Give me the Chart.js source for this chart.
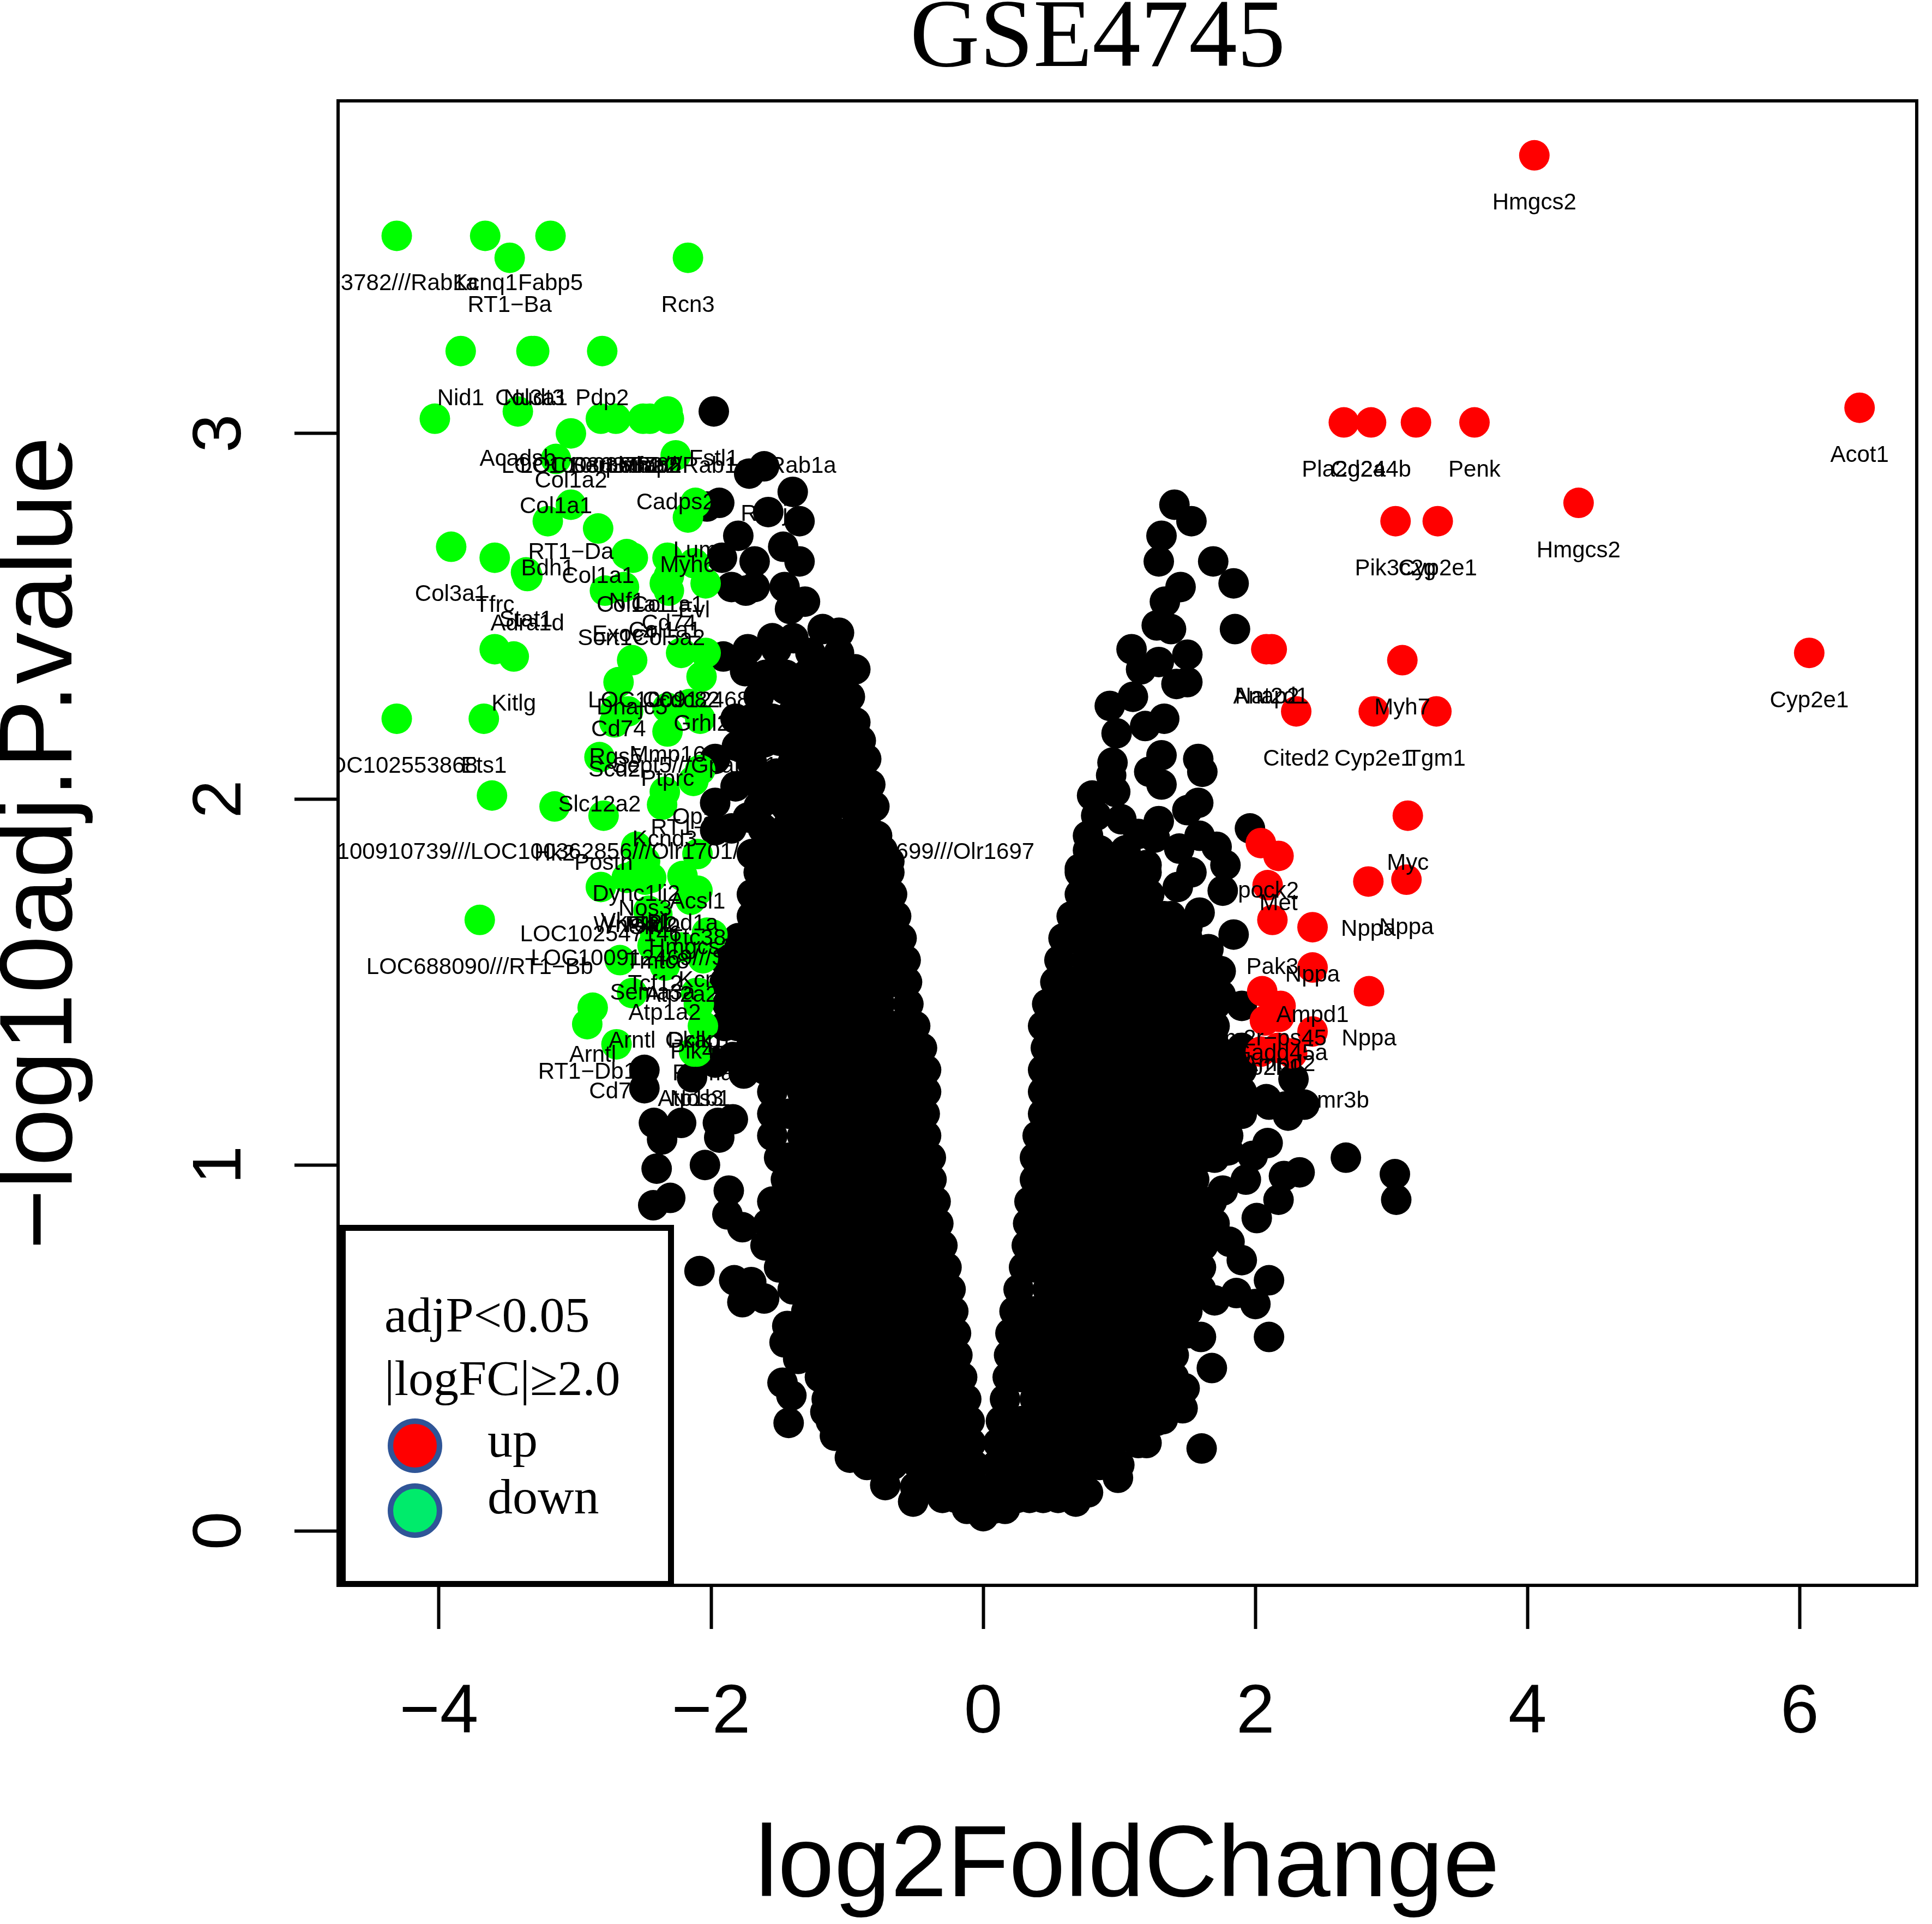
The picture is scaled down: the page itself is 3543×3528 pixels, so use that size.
<!DOCTYPE html>
<html>
<head>
<meta charset="utf-8">
<title>GSE4745</title>
<style>
  html, body { margin: 0; padding: 0; background: #fff; }
  canvas { display: block; }
</style>
<script src="https://cdn.jsdelivr.net/npm/chart.js@4/dist/chart.umd.min.js"></script>
</head>
<body>
<canvas id="volcano" width="3543" height="3528"></canvas>
<script>
const xTickValues = [-4, -2, 0, 2, 4, 6];
const yTickValues = [0, 1, 2, 3];

// up regulated genes
const upX = [4.05, 6.44, 2.65, 2.85, 3.18, 3.61, 4.375, 3.03, 3.34, 6.07, 2.08, 2.12, 3.08, 2.30, 2.87, 3.33, 3.12, 2.04, 2.17, 2.83, 3.11, 2.09, 2.125, 2.42, 2.42, 2.835, 2.05, 2.185, 2.07, 2.175, 2.42, 2.04, 2.27, 2.165];
const upY = [3.76, 3.07, 3.03, 3.03, 3.03, 3.03, 2.81, 2.76, 2.76, 2.40, 2.41, 2.41, 2.38, 2.24, 2.24, 2.24, 1.955, 1.88, 1.845, 1.775, 1.78, 1.765, 1.67, 1.65, 1.54, 1.475, 1.475, 1.435, 1.395, 1.405, 1.365, 1.31, 1.305, 1.32];
const upLabels = ['Hmgcs2', 'Acot1', 'Pla2g2a', 'Cd244b', '', 'Penk', 'Hmgcs2', 'Pik3c2g', 'Cyp2e1', 'Cyp2e1', 'Anap2', 'Nat2d1', 'Myh7', 'Cited2', 'Cyp2e1', 'Tgm1', 'Myc', 'Spock2', 'Met', 'Nppa', 'Nppa', '', 'Pak3', 'Nppa', 'Ampd1', 'Nppa', 'Vom2r−ps45', 'Gadd45a', 'Atp2b1', 'Ampd2', '', '', 'Smr3a///Smr3b', ''];

// down regulated genes
const downX = [-4.31, -3.66, -3.18, -3.48, -2.17, -3.84, -3.32, -3.30, -2.80, -4.03, -3.42, -3.03, -3.14, -2.81, -2.70, -2.50, -2.45, -2.31, -2.32, -2.26, -3.20, -3.03, -2.83, -3.91, -3.59, -3.36, -3.35, -2.575, -2.62, -2.32, -2.115, -2.17, -2.125, -2.78, -2.64, -2.31, -2.34, -2.31, -2.04, -2.58, -2.22, -2.04, -2.07, -2.68, -3.59, -3.45, -4.31, -3.67, -2.71, -2.61, -2.70, -2.32, -2.16, -2.08, -2.32, -2.82, -3.61, -3.15, -2.79, -2.36, -2.34, -2.08, -2.13, -2.55, -2.485, -2.55, -2.21, -2.10, -2.10, -2.81, -2.46, -2.62, -2.485, -2.44, -2.15, -2.395, -3.70, -2.41, -2.03, -2.43, -2.215, -1.99, -2.06, -2.67, -2.34, -2.58, -2.11, -2.09, -2.09, -2.87, -2.91, -2.695, -2.06, -2.105, -2.125];
const downY = [3.54, 3.54, 3.54, 3.48, 3.48, 3.225, 3.225, 3.225, 3.225, 3.04, 3.06, 3.00, 2.93, 3.04, 3.04, 3.04, 3.04, 3.04, 3.06, 2.94, 2.76, 2.805, 2.74, 2.69, 2.66, 2.62, 2.61, 2.66, 2.67, 2.66, 2.81, 2.77, 2.645, 2.57, 2.58, 2.61, 2.59, 2.57, 2.59, 2.38, 2.40, 2.40, 2.335, 2.32, 2.41, 2.39, 2.22, 2.22, 2.21, 2.24, 2.245, 2.25, 2.26, 2.22, 2.185, 2.115, 2.01, 1.98, 1.955, 1.985, 2.02, 2.08, 2.05, 1.87, 1.83, 1.795, 1.79, 1.85, 1.75, 1.76, 1.695, 1.785, 1.78, 1.785, 1.725, 1.685, 1.67, 1.625, 1.635, 1.60, 1.595, 1.63, 1.565, 1.56, 1.545, 1.47, 1.47, 1.47, 1.44, 1.43, 1.385, 1.33, 1.38, 1.31, 1.31];
const downLabels = ['103782///Rab1a', 'Kcnq1', 'Fabp5', 'RT1−Ba', 'Rcn3', 'Nid1', 'Col3a1', 'Nudt3', 'Pdp2', '', 'Acadsb', 'Col1a2', 'Col1a1', 'LOC100363782', 'Serpinh1', 'Lama2', 'Mfap5', 'LOC100363782///Rab1a///Rab1a', '', 'Cadps2', 'Bdh1', 'RT1−Da', 'Col1a1', 'Col3a1', 'Tfrc', 'Stat1', 'Adra1d', 'Col1a1', 'Nf1', 'Col1a1', 'Lum', 'Myh6', 'Evl', 'Sort1', 'Exoc4', 'Cd74', 'Col1a1', 'Col5a2', '', 'Dnajc5', 'Ccdc82', 'LOC100912468///Sfrp2', 'Grhl2', 'Cd74', '', 'Kitlg', 'LOC102553868', 'Ets1', 'Scd2', '', 'Rgs5', 'Mmp16', '', 'Sept5///Gpatch11', 'Ptprc', 'Slc12a2', '', 'Hk2', 'Postn', 'LOC100910739///LOC100362856///Olr1701///Olr1700///Olr1699///Olr1697', 'Kcnd3', 'Opa1', 'RT1−Ha', 'Dync1li2', 'Nos3', 'Vkorc1', 'Plod1a', 'Acsl1', 'Ttc38', 'LOC102547146', 'LOC100912469///Sfrp2', 'Wnt5a', 'Slk', 'Pkd2', 'Hmgcs1', 'Tmtc8', 'LOC688090///RT1−Bb', 'Tcf12', 'Kcnj8', 'Sema3a', 'Atp2a2', '', '', '', 'Atp1a2', 'Arntl', 'Dclk1', 'Gkap1', 'Pik4a', 'Arntl', 'RT1−Db1', 'Cd74', 'Rgma', 'Nos3', 'Atp1b1'];

// not significant, but labelled
const otherLabelX = [-1.98, -1.61];
const otherLabelY = [3.06, 2.91];
const otherLabels = ['Fstl1', 'Rhoj'];

// not significant, the scattered points round the edge of the cloud
const otherPoints = [
  [-1.72, 2.89], [-1.40, 2.84], [-1.94, 2.81], [-2.03, 2.80], [-1.58, 2.785], [-1.35, 2.76], [-1.80, 2.72], [-1.47, 2.69],
  [-1.35, 2.65], [-1.92, 2.66], [-1.68, 2.65], [-1.85, 2.58], [-1.745, 2.57], [-1.68, 2.58], [-1.46, 2.58], [-1.31, 2.54],
  [-1.42, 2.52], [-1.73, 2.41], [-1.55, 2.44], [-1.395, 2.44], [-1.18, 2.465], [-1.06, 2.455], [-1.91, 2.39], [-1.75, 2.35],
  [-1.52, 2.41], [-1.27, 2.40], [-1.06, 2.40], [-.94, 2.355], [-1.30, 2.34], [-1.03, 2.31], [-1.12, 2.365], [-1.455, 2.30],
  [-1.82, 2.22], [-1.55, 2.22], [-1.395, 2.23], [-.94, 2.21], [-1.06, 2.23], [-1.21, 2.26], [-1.81, 2.145], [-1.97, 2.11],
  [-1.61, 2.155], [-1.36, 2.165], [-1.12, 2.15], [-.86, 2.11], [-1.03, 2.08], [-.83, 2.04], [-1.52, 2.07], [-1.27, 2.09],
  [-.89, 1.99], [-1.21, 2.01], [-1.97, 1.99], [-1.73, 1.95], [-1.36, 1.98], [-1.03, 1.99], [-1.56, 2.00], [-1.82, 2.035],
  [-1.97, 1.915], [-1.36, 1.90], [-.78, 1.90], [-.69, 1.83], [-1.70, 1.85], [-1.52, 1.86], [-1.21, 1.895], [-1.06, 1.885], [-.91, 1.86],
  [1.405, 2.805], [1.53, 2.76], [1.31, 2.72], [1.29, 2.65], [1.69, 2.65], [1.84, 2.59], [1.45, 2.58], [1.335, 2.54],
  [1.275, 2.475], [1.38, 2.465], [1.85, 2.465], [1.50, 2.395], [1.09, 2.41], [1.29, 2.375], [1.16, 2.355], [1.42, 2.315],
  [1.50, 2.32], [1.10, 2.28], [.93, 2.255], [1.33, 2.22], [1.19, 2.20], [.98, 2.18], [1.31, 2.12], [.95, 2.10],
  [1.58, 2.11], [1.61, 2.075], [1.22, 2.075], [1.31, 2.04], [.94, 2.065], [.80, 2.01], [.97, 2.02], [.83, 1.955],
  [1.58, 1.99], [1.50, 1.97], [1.29, 1.94], [1.96, 1.92], [.77, 1.90], [1.015, 1.945], [1.14, 1.905], [1.26, 1.895],
  [1.59, 1.90], [1.715, 1.87], [1.44, 1.865], [.71, 1.81], [1.78, 1.82], [.92, 1.84], [1.20, 1.82], [1.53, 1.80],
  [1.76, 1.75], [1.43, 1.76], [1.59, 1.69], [1.84, 1.63], [1.50, 1.65], [1.655, 1.59], [1.745, 1.53], [1.745, 1.465],
  [1.90, 1.435], [1.53, 1.39], [1.685, 1.37],
  [-2.49, 1.26], [-2.49, 1.21], [-2.14, 1.24], [-2.42, 1.115], [-2.22, 1.115], [-2.36, 1.07], [-2.40, .99], [-1.95, 1.115],
  [-1.84, 1.125], [-1.94, 1.075], [-2.045, 1.00], [-2.30, .91], [-2.425, .89], [-1.87, .93], [-1.88, .865], [-1.77, .83],
  [-2.085, .71], [-1.83, .685], [-1.705, .68], [-1.77, .625], [-1.61, .635], [-1.44, .56], [-1.46, .515], [-1.36, .47],
  [-1.475, .405], [-1.41, .37], [-1.43, .295], [-1.16, .325], [-1.09, .26], [-.98, .20], [-.72, .125], [-.515, .08],
  [-1.51, 1.23], [-1.76, 1.25], [-1.97, 1.28], [-1.84, 1.295], [-1.54, 1.28],
  [1.605, .225], [.99, .145], [.68, .08], [.77, .105], [2.10, .53], [2.00, .62], [2.10, .685], [1.90, .74],
  [1.81, .79], [2.01, .855], [2.17, .905], [2.21, .97], [2.325, .98], [1.93, .96], [1.76, .93], [2.09, 1.06],
  [1.80, 1.04], [1.98, 1.025], [2.24, 1.135], [2.08, 1.18], [1.86, .65], [1.70, .63], [2.665, 1.02], [3.025, .975],
  [3.035, .905], [1.68, .445], [1.60, .53], [1.48, .39], [1.465, .335], [1.32, .305], [1.17, .245],
  [2.28, 1.235], [2.22, 1.16], [2.36, 1.165], [2.10, 1.165]
];

// the solid part of the cloud, row by row
const cloudRowY = [2.34, 2.28, 2.22, 2.16, 2.1, 2.04, 1.98, 1.92, 1.86, 1.8, 1.74, 1.68, 1.62, 1.56, 1.5, 1.44, 1.38, 1.32, 1.26, 1.2, 1.14, 1.08, 1.02, .96, .9, .84, .78, .72, .66, .6, .54, .48, .42, .36, .3, .24, .18, .12, .09, .06, .04];
const cloudRowLeftX = [
  [-1.6, -1.45, -1.15],
  [-1.65, -1.3, -1.15, -.98],
  [-1.7, -1.25, -1.15],
  [-1.7, -1.5, -1.25, -1, -.9],
  [-1.7, -1.4, -1.15, -.95],
  [-1.65, -1.4, -1.3, -1.1, -1, -.9],
  [-1.65, -1.45, -1.25, -1.12, -.95, -.8],
  [-1.85, -1.62, -1.45, -1.28, -1.12, -.95, -.85],
  [-1.615, -1.425, -1.235, -1.045, -.855, -.74],
  [-1.65, -1.52, -1.33, -1.14, -.95, -.76, -.69],
  [-1.7, -1.615, -1.425, -1.235, -1.045, -.855, -.67],
  [-1.7, -1.52, -1.33, -1.14, -.95, -.76, -.64],
  [-1.8, -1.615, -1.425, -1.235, -1.045, -.855, -.665, -.6],
  [-1.9, -1.71, -1.52, -1.33, -1.14, -.95, -.76, -.57],
  [-1.9, -1.805, -1.615, -1.425, -1.235, -1.045, -.855, -.665, -.56],
  [-1.88, -1.71, -1.52, -1.33, -1.14, -.95, -.76, -.55],
  [-1.9, -1.805, -1.615, -1.425, -1.235, -1.045, -.855, -.665, -.5],
  [-1.71, -1.52, -1.33, -1.14, -.95, -.76, -.57, -.45],
  [-1.6, -1.425, -1.235, -1.045, -.855, -.665, -.475, -.42],
  [-1.55, -1.33, -1.14, -.95, -.76, -.57, -.42],
  [-1.55, -1.425, -1.235, -1.045, -.855, -.665, -.475, -.43],
  [-1.55, -1.33, -1.14, -.95, -.76, -.57, -.42],
  [-1.5, -1.425, -1.235, -1.045, -.855, -.665, -.475, -.385],
  [-1.45, -1.33, -1.14, -.95, -.76, -.57, -.38],
  [-1.55, -1.425, -1.235, -1.045, -.855, -.665, -.475, -.35],
  [-1.58, -1.52, -1.33, -1.14, -.95, -.76, -.57, -.38, -.33],
  [-1.6, -1.425, -1.235, -1.045, -.855, -.665, -.475, -.3],
  [-1.5, -1.33, -1.14, -.95, -.76, -.57, -.38, -.27],
  [-1.4, -1.235, -1.045, -.855, -.665, -.475, -.285, -.24],
  [-1.3, -1.14, -.95, -.76, -.57, -.38, -.22],
  [-1.3, -1.235, -1.045, -.855, -.665, -.475, -.285, -.2],
  [-1.3, -1.14, -.95, -.76, -.57, -.38, -.19],
  [-1.2, -1.045, -.855, -.665, -.475, -.285, -.155],
  [-1.15, -.95, -.76, -.57, -.38, -.19, -.125],
  [-1.12, -1.045, -.855, -.665, -.475, -.285, -.1],
  [-.95, -.76, -.57, -.38, -.19, -.09],
  [-.855, -.72, -.665, -.475, -.285, -.095, -.07],
  [-.5, -.38, -.19, -.05],
  [-.3, -.2],
  [-.12, -.03],
  [0]
];
const cloudRowRightX = [
  [], [], [], [], [], [], [], [],
  [.77, .855, 1.045],
  [.71, .76, .95, 1.14, 1.2],
  [.71, .855, 1.045, 1.22],
  [.65, .76, .95, 1.14, 1.33, 1.38],
  [.59, .665, .855, 1.045, 1.235, 1.425, 1.5],
  [.56, .76, .95, 1.14, 1.33, 1.52, 1.65],
  [.53, .665, .855, 1.045, 1.235, 1.425, 1.615],
  [.47, .57, .76, .95, 1.14, 1.33, 1.52, 1.71],
  [.44, .475, .665, .855, 1.045, 1.235, 1.425, 1.615, 1.7],
  [.46, .57, .76, .95, 1.14, 1.33, 1.52, 1.71, 1.9],
  [.44, .55, .665, .855, 1.045, 1.235, 1.425, 1.615, 1.805, 1.9],
  [.44, .57, .76, .95, 1.14, 1.33, 1.52, 1.71, 1.9],
  [.44, .55, .665, .855, 1.045, 1.235, 1.425, 1.615, 1.805, 1.9],
  [.4, .57, .76, .95, 1.14, 1.33, 1.52, 1.71, 1.8],
  [.38, .475, .665, .855, 1.045, 1.235, 1.425, 1.615, 1.7],
  [.38, .57, .76, .95, 1.14, 1.33, 1.52, 1.55],
  [.34, .475, .665, .855, 1.045, 1.235, 1.425, 1.615, 1.68],
  [.33, .38, .57, .76, .95, 1.14, 1.33, 1.52, 1.7],
  [.32, .475, .665, .855, 1.045, 1.235, 1.425, 1.615],
  [.3, .38, .57, .76, .95, 1.14, 1.33, 1.52, 1.6],
  [.26, .475, .665, .855, 1.045, 1.235, 1.425, 1.6],
  [.23, .38, .57, .76, .95, 1.14, 1.33, 1.5],
  [.2, .285, .475, .665, .855, 1.045, 1.235, 1.425, 1.5],
  [.19, .38, .57, .76, .95, 1.14, 1.33, 1.4],
  [.18, .285, .475, .665, .855, 1.045, 1.235, 1.4],
  [.16, .38, .57, .76, .95, 1.14, 1.33, 1.4],
  [.13, .285, .475, .665, .855, 1.045, 1.235, 1.27],
  [.11, .19, .38, .57, .76, .95, 1.14, 1.2],
  [.1, .285, .475, .665, .855, 1],
  [.09, .19, .38, .57, .72],
  [.25, .34, .44, .55],
  [.07, .16],
  []
];

function toPoints(xs, ys, labels) {
  return xs.map(function (x, i) {
    return { x: x, y: ys[i], gene: labels ? labels[i] : '' };
  });
}

const cloudPoints = [];
cloudRowY.forEach(function (y, i) {
  cloudRowLeftX[i].concat(cloudRowRightX[i]).forEach(function (x) {
    cloudPoints.push({ x: x, y: y, gene: '' });
  });
});
const blackPoints = toPoints(otherLabelX, otherLabelY, otherLabels)
  .concat(otherPoints.map(function (p) { return { x: p[0], y: p[1], gene: '' }; }))
  .concat(cloudPoints);

const sansFont = '"Liberation Sans", Arial, sans-serif';
const serifFont = '"Liberation Serif", "Times New Roman", serif';

// gene names go under their point, cut off at the plot edge like in R
const geneLabels = {
  id: 'geneLabels',
  afterDatasetsDraw(chart) {
    const { ctx, chartArea, scales } = chart;
    ctx.save();
    ctx.lineWidth = 6;
    ctx.strokeStyle = '#000';
    ctx.strokeRect(chartArea.left, chartArea.top, chartArea.right - chartArea.left, chartArea.bottom - chartArea.top);
    ctx.beginPath();
    ctx.rect(chartArea.left, chartArea.top, chartArea.right - chartArea.left, chartArea.bottom - chartArea.top);
    ctx.clip();
    ctx.font = '42px ' + sansFont;
    ctx.fillStyle = '#000';
    ctx.textAlign = 'center';
    ctx.textBaseline = 'middle';
    chart.data.datasets.forEach(function (ds) {
      ds.data.forEach(function (p) {
        if (p.gene) ctx.fillText(p.gene, scales.x.getPixelForValue(p.x), scales.y.getPixelForValue(p.y) + 88);
      });
    });
    ctx.restore();
  }
};

// the pasted legend box in the lower left corner
const legendBox = {
  id: 'legendBox',
  afterLayout(chart) {
    // the title sits left of the plot centre
    chart.titleBlock.right = 4026;
  },
  afterDraw(chart) {
    const ctx = chart.ctx;
    ctx.save();
    ctx.fillStyle = '#000';
    ctx.fillRect(619, 2246, 617, 664);
    ctx.fillStyle = '#fff';
    ctx.fillRect(634, 2257, 591, 642);

    ctx.fillStyle = '#000';
    ctx.font = '92px ' + serifFont;
    ctx.textAlign = 'left';
    ctx.textBaseline = 'alphabetic';
    ctx.fillText('adjP<0.05', 705, 2442);
    ctx.fillText('|logFC|≥2.0', 705, 2558);
    ctx.fillText('up', 894, 2671);
    ctx.fillText('down', 894, 2775);

    [[2651, '#ff0000'], [2770, '#00eb6b']].forEach(function (item) {
      ctx.beginPath();
      ctx.arc(761, item[0], 45, 0, Math.PI * 2);
      ctx.fillStyle = item[1];
      ctx.fill();
      ctx.lineWidth = 10;
      ctx.strokeStyle = '#2f5597';
      ctx.stroke();
    });
    ctx.restore();
  }
};

new Chart(document.getElementById('volcano'), {
  type: 'scatter',
  data: {
    datasets: [
      { label: 'up', data: toPoints(upX, upY, upLabels), backgroundColor: '#ff0000', order: 1 },
      { label: 'down', data: toPoints(downX, downY, downLabels), backgroundColor: '#00ff00', order: 2 },
      { label: 'other', data: blackPoints, backgroundColor: '#000000', order: 3 }
    ]
  },
  options: {
    responsive: false,
    devicePixelRatio: 1,
    animation: false,
    events: [],
    elements: { point: { radius: 28, borderWidth: 0 } },
    layout: { padding: { left: 0, right: 11, top: 0, bottom: 0 } },
    plugins: {
      legend: { display: false },
      tooltip: { enabled: false },
      title: {
        display: true,
        text: 'GSE4745',
        color: '#000',
        font: { family: serifFont, size: 177, weight: 'normal', lineHeight: 0.7 },
        padding: { top: 13, bottom: 48 }
      }
    },
    scales: {
      x: {
        type: 'linear',
        min: -4.741,
        max: 6.86,
        afterFit(scale) {
          scale.height = 621;
          scale.paddingLeft = 0;
          scale.paddingRight = 0;
        },
        afterBuildTicks(scale) { scale.ticks = xTickValues.map(function (v) { return { value: v }; }); },
        border: { display: true, width: 6, color: '#000' },
        grid: { drawOnChartArea: false, drawTicks: true, tickLength: 80, tickWidth: 6, tickColor: '#000' },
        ticks: {
          autoSkip: false,
          maxRotation: 0,
          padding: 79,
          color: '#000',
          font: { family: sansFont, size: 127 },
          callback(v) { return String(v).replace('-', '−'); }
        },
        title: {
          display: true,
          text: 'log2FoldChange',
          color: '#000',
          font: { family: sansFont, size: 186, lineHeight: 1 },
          padding: { top: 0, bottom: 9 }
        }
      },
      y: {
        type: 'linear',
        min: -0.149,
        max: 3.909,
        afterFit(scale) {
          scale.width = 620;
          scale.paddingTop = 0;
          scale.paddingBottom = 0;
        },
        afterBuildTicks(scale) { scale.ticks = yTickValues.map(function (v) { return { value: v }; }); },
        border: { display: true, width: 6, color: '#000' },
        grid: { drawOnChartArea: false, drawTicks: true, tickLength: 80, tickWidth: 6, tickColor: '#000' },
        ticks: {
          autoSkip: false,
          crossAlign: 'center',
          minRotation: 90,
          maxRotation: 90,
          padding: 99,
          color: '#000',
          font: { family: sansFont, size: 127 }
        },
        title: {
          display: true,
          text: '−log10adj.P.value',
          color: '#000',
          font: { family: sansFont, size: 190, lineHeight: 0.8 },
          padding: { top: 3, bottom: 0 }
        }
      }
    }
  },
  plugins: [geneLabels, legendBox]
});
</script>
</body>
</html>
